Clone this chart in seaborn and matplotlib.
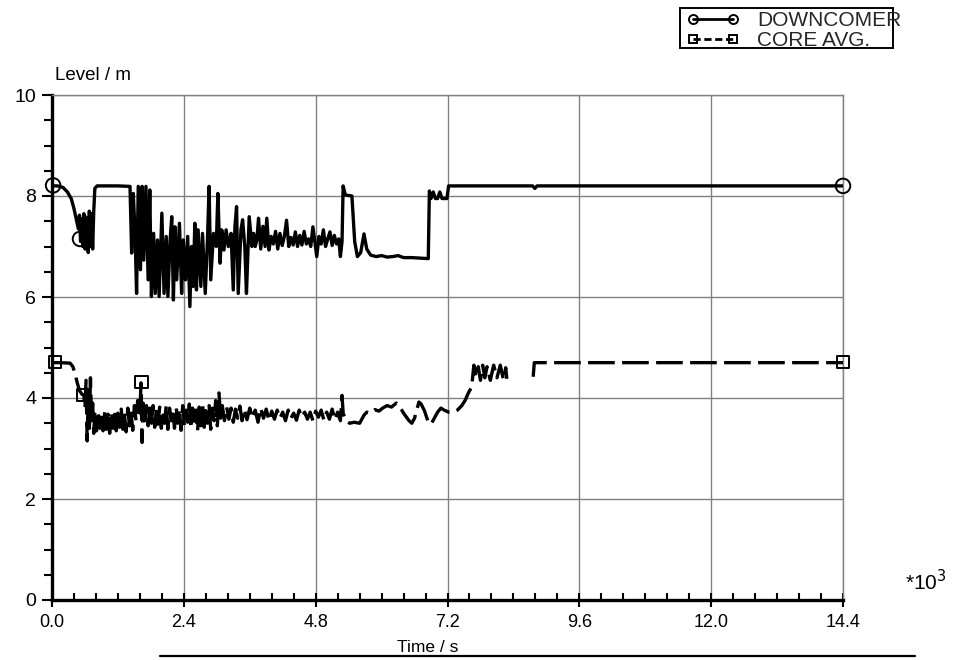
import matplotlib
matplotlib.use("Agg")
import matplotlib.pyplot as plt
from matplotlib.lines import Line2D
from matplotlib.patches import Rectangle
from matplotlib.ticker import MultipleLocator, FixedLocator
import seaborn as sns
import pandas as pd

# ---------------- data (time in 10^3 s, level in m) ----------------
dc_time = [0.00, 0.10, 0.20, 0.28, 0.35, 0.40, 0.45, 0.48, 0.50, 0.52, 0.54, 0.56, 0.58, 0.60,
           0.62, 0.64, 0.66, 0.68, 0.70, 0.72, 0.74, 0.76, 0.78, 0.82, 1.00, 1.20, 1.42,
           1.45, 1.48, 1.51, 1.54, 1.57, 1.61, 1.64, 1.67, 1.71, 1.75, 1.78, 1.81, 1.85, 1.88,
           1.92, 1.95, 2.00, 2.04, 2.08, 2.11, 2.15, 2.18, 2.21, 2.24, 2.27, 2.32, 2.36, 2.39,
           2.43, 2.47, 2.51, 2.54, 2.57, 2.60, 2.63, 2.66, 2.71, 2.74, 2.79, 2.83, 2.86, 2.89,
           2.94, 2.99, 3.02, 3.06, 3.09, 3.13, 3.17, 3.21, 3.26, 3.30, 3.33, 3.36, 3.39, 3.44,
           3.47, 3.51, 3.54, 3.59, 3.64, 3.67, 3.70, 3.73,
           3.76, 3.80, 3.84, 3.88, 3.91, 3.95, 3.99, 4.03, 4.07, 4.11, 4.15, 4.19, 4.23, 4.27,
           4.31, 4.35, 4.39, 4.43, 4.47, 4.51, 4.55, 4.59, 4.63, 4.67, 4.71, 4.75, 4.79, 4.82,
           4.86, 4.90, 4.94, 4.98, 5.02, 5.06, 5.10, 5.14, 5.18, 5.22, 5.25, 5.28,
           5.30, 5.34, 5.46, 5.51, 5.56, 5.62, 5.68, 5.73, 5.80, 5.90, 6.00, 6.10, 6.20, 6.30,
           6.40, 6.55, 6.70, 6.85, 6.87, 6.90, 6.94, 6.98, 7.02, 7.06, 7.10, 7.19, 7.22,
           8.75, 8.79, 8.83, 14.40]
dc_level = [8.20, 8.20, 8.17, 8.08, 7.95, 7.75, 7.50, 7.35, 7.62, 7.10, 7.55, 7.00, 7.65, 6.95,
            7.58, 7.15, 6.88, 7.70, 7.00, 7.65, 6.95, 7.70, 8.15, 8.20, 8.20, 8.20, 8.19,
            6.87, 8.05, 7.33, 6.07, 8.19, 6.54, 8.19, 6.73, 8.19, 6.34, 8.12, 6.01, 7.26, 6.07,
            7.13, 6.01, 7.66, 6.07, 7.20, 6.01, 7.13, 7.59, 5.94, 7.39, 6.34, 7.46, 6.07, 7.13,
            6.34, 7.20, 5.81, 7.00, 6.21, 7.46, 6.14, 7.33, 6.21, 7.26, 6.07, 7.13, 8.19, 6.34,
            7.26, 7.00, 8.05, 6.67, 7.33, 6.93, 7.33, 7.00, 7.26, 6.14, 7.39, 7.79, 6.07, 7.33,
            7.53, 7.00, 6.07, 7.59, 7.00, 7.26, 7.00, 7.13,
            7.56, 6.95, 7.40, 7.00, 7.56, 6.93, 7.20, 7.05, 7.30, 6.95, 7.26, 7.02, 7.20, 7.52,
            7.00, 7.18, 7.03, 7.29, 7.00, 7.22, 7.03, 7.30, 7.05, 7.15, 7.00, 7.39, 7.05, 6.80,
            7.20, 7.05, 7.33, 7.00, 7.15, 7.29, 7.02, 7.22, 7.05, 7.15, 6.80, 7.10,
            8.20, 8.02, 8.00, 7.10, 6.80, 6.88, 7.25, 6.95, 6.83, 6.80, 6.82, 6.79, 6.80, 6.82,
            6.78, 6.78, 6.77, 6.76, 8.10, 7.95, 8.08, 7.95, 7.95, 8.08, 7.95, 7.95, 8.20,
            8.20, 8.15, 8.20, 8.20]

core_time = [0.00, 0.15, 0.33, 0.38, 0.42, 0.46, 0.50, 0.54, 0.58, 0.60, 0.62, 0.64, 0.66, 0.68,
             0.70, 0.72, 0.74, 0.76, 0.78, 0.81, 0.84, 0.87, 0.90, 0.93, 0.96, 0.99, 1.02, 1.05,
             1.08, 1.11, 1.14, 1.17, 1.20, 1.23, 1.26, 1.29, 1.32, 1.35, 1.38, 1.41, 1.44, 1.47,
             1.50, 1.53, 1.56, 1.60, 1.62, 1.64, 1.66, 1.69, 1.72, 1.75, 1.78, 1.81, 1.84, 1.87,
             1.90, 1.93, 1.96, 1.99, 2.02, 2.05, 2.08, 2.11, 2.14, 2.17, 2.20, 2.23, 2.26, 2.29,
             2.32, 2.35, 2.38, 2.41, 2.44, 2.47, 2.50, 2.53, 2.56, 2.59, 2.62, 2.65, 2.68, 2.71,
             2.74, 2.77, 2.80, 2.83, 2.86, 2.89, 2.92, 2.95, 2.98, 3.01, 3.04, 3.07, 3.10, 3.14,
             3.18, 3.22, 3.26, 3.30, 3.34, 3.38, 3.42, 3.46, 3.50, 3.55, 3.60, 3.65, 3.70, 3.75,
             3.80, 3.85, 3.90, 3.95, 4.00, 4.05, 4.10, 4.15, 4.20, 4.25, 4.30, 4.35, 4.40, 4.45,
             4.50, 4.55, 4.60, 4.65, 4.70, 4.75, 4.80, 4.85, 4.90, 4.95, 5.00, 5.05, 5.10, 5.15,
             5.20, 5.25, 5.28, 5.30, 5.35, 5.42, 5.50, 5.60, 5.68, 5.73, 5.80, 5.88, 5.95, 6.02,
             6.10, 6.18, 6.27, 6.32, 6.40, 6.50, 6.55, 6.60, 6.68, 6.72, 6.78, 6.85, 6.90, 6.96,
             7.02, 7.08, 7.14, 7.22, 7.30, 7.38, 7.46, 7.52, 7.58, 7.64, 7.68, 7.72, 7.76, 7.80,
             7.84, 7.88, 7.92, 7.98, 8.04, 8.10, 8.16, 8.22, 8.26, 8.28,
             8.76, 8.78, 14.40]
core_level = [4.70, 4.70, 4.69, 4.62, 4.48, 4.30, 4.15, 4.08, 4.05, 3.80, 4.35, 3.15, 4.10, 3.40,
              4.40, 3.55, 3.90, 3.30, 3.75, 3.35, 3.70, 3.40, 3.65, 3.35, 3.72, 3.38, 3.68, 3.30,
              3.72, 3.40, 3.75, 3.35, 3.70, 3.42, 3.78, 3.38, 3.66, 3.33, 3.80, 3.45, 3.70, 3.36,
              3.85, 3.55, 3.95, 3.70, 4.30, 3.12, 3.90, 3.55, 3.85, 3.45, 3.80, 3.50, 3.85, 3.42,
              3.78, 3.48, 3.82, 3.40, 3.75, 3.50, 3.86, 3.38, 3.80, 3.55, 3.74, 3.40, 3.82, 3.50,
              3.78, 3.36, 3.85, 3.45, 3.76, 3.52, 3.88, 3.40, 3.80, 3.48, 3.76, 3.35, 3.82, 3.45,
              3.90, 3.42, 3.75, 3.50, 3.85, 3.38, 3.80, 3.55, 3.95, 3.45, 4.10, 3.60, 3.85, 3.55,
              3.82, 3.58, 3.80, 3.52, 3.78, 3.60, 3.84, 3.55, 3.78, 3.57, 3.80, 3.60, 3.76, 3.52,
              3.80, 3.60, 3.78, 3.55, 3.74, 3.58, 3.76, 3.60, 3.72, 3.55, 3.76, 3.60, 3.70, 3.56,
              3.76, 3.62, 3.72, 3.58, 3.72, 3.55, 3.74, 3.62, 3.76, 3.56, 3.72, 3.58, 3.78, 3.57,
              3.72, 3.55, 4.05, 3.70, 3.55, 3.50, 3.52, 3.50, 3.66, 3.72, 3.70, 3.77, 3.74, 3.80,
              3.85, 3.82, 3.90, 3.85, 3.70, 3.55, 3.50, 3.60, 3.92, 3.88, 3.75, 3.52, 3.48, 3.60,
              3.72, 3.80, 3.76, 3.72, 3.72, 3.76, 3.85, 3.95, 4.10, 4.22, 4.65, 4.40, 4.62, 4.35,
              4.65, 4.40, 4.62, 4.35, 4.65, 4.40, 4.65, 4.35, 4.60, 4.38,
              4.42, 4.70, 4.70]
# the last three core points form a separate (disconnected) piece
core_segment = [0] * (len(core_time) - 3) + [1] * 3

dc_marker_time = [0.02, 0.51, 14.40]
dc_marker_level = [8.21, 7.15, 8.20]
core_marker_time = [0.05, 0.56, 1.63, 14.40]
core_marker_level = [4.71, 4.06, 4.32, 4.71]

series_labels = ["DOWNCOMER", "CORE AVG."]
x_ticks = [0.0, 2.4, 4.8, 7.2, 9.6, 12.0, 14.4]
x_tick_labels = ["0.0", "2.4", "4.8", "7.2", "9.6", "12.0", "14.4"]
y_ticks = [0, 2, 4, 6, 8, 10]

# ---------------- style ----------------
sns.set_theme(style="ticks")
plt.rcParams["font.family"] = ["Liberation Sans", "DejaVu Sans"]

W, H = 968, 660
fig = plt.figure(figsize=(W / 100, H / 100), dpi=100)
ax = fig.add_axes([52 / W, 60 / H, 791 / W, 505 / H])

dc_df = pd.DataFrame({"t": dc_time, "v": dc_level})
core_df = pd.DataFrame({"t": core_time, "v": core_level, "seg": core_segment})

LW = 2.4
dash = (0, (8.0, 2.2))
sns.lineplot(data=dc_df, x="t", y="v", ax=ax, color="black", lw=LW, sort=False,
             estimator=None, legend=False, zorder=3)
sns.lineplot(data=core_df, x="t", y="v", units="seg", ax=ax, color="black", lw=LW,
             sort=False, estimator=None, legend=False, zorder=3, linestyle=dash)

sns.scatterplot(x=dc_marker_time, y=dc_marker_level, ax=ax, marker="o", s=110,
                facecolor="none", edgecolor="black", linewidth=1.4, zorder=4, clip_on=False)
sns.scatterplot(x=core_marker_time, y=core_marker_level, ax=ax, marker="s", s=80,
                facecolor="none", edgecolor="black", linewidth=1.4, zorder=4, clip_on=False)

ax.set_xlim(0, 14.4)
ax.set_ylim(0, 10)
ax.set_xlabel("")
ax.set_ylabel("")
ax.xaxis.set_major_locator(FixedLocator(x_ticks))
ax.set_xticklabels(x_tick_labels)
ax.xaxis.set_minor_locator(MultipleLocator(0.4))
ax.yaxis.set_major_locator(FixedLocator(y_ticks))
ax.yaxis.set_minor_locator(MultipleLocator(0.5))

ax.grid(True, which="major", color="#808080", lw=1.0)
ax.set_axisbelow(True)
for side in ["top", "right"]:
    ax.spines[side].set_visible(True)
    ax.spines[side].set_color("#808080")
    ax.spines[side].set_linewidth(1.0)
for side in ["left", "bottom"]:
    ax.spines[side].set_color("black")
    ax.spines[side].set_linewidth(2.4)

ax.tick_params(axis="y", which="major", direction="out", length=7.5, width=1.5,
               color="black", labelsize=14, pad=4)
ax.tick_params(axis="y", which="minor", direction="out", length=6, width=1.5, color="black")
ax.tick_params(axis="x", which="major", direction="inout", length=10, width=1.5,
               color="black", labelsize=13, pad=5)
ax.tick_params(axis="x", which="minor", direction="in", length=5, width=1.5, color="black")
for lab in ax.get_xticklabels() + ax.get_yticklabels():
    lab.set_color("black")

# ---------------- texts ----------------
fig.text(55 / W, 1 - 75 / H, "Level / m", fontsize=13.5, va="center", ha="left", color="black")
fig.text(428 / W, 1 - 647 / H, "Time / s", fontsize=12.5, va="center", ha="center", color="black")
fig.add_artist(Line2D([160 / W, 915 / W], [1 - 656 / H, 1 - 656 / H], color="black", lw=1.6))
fig.text(905 / W, 1 - 582 / H, r"*10$^{3}$", fontsize=15, va="center", ha="left", color="black")

# ---------------- legend ----------------
handles = [
    Line2D([], [], color="black", lw=2.0, marker="o", ms=6.5, mfc="none", mew=1.4),
    Line2D([], [], color="black", lw=2.0, ls=(0, (2.6, 1.3)), marker="s", ms=5.5, mfc="none", mew=1.4),
]
leg = fig.legend(handles, series_labels, loc="upper left",
                 bbox_to_anchor=(687 / W, 1 - 11.5 / H), frameon=False, numpoints=2,
                 fontsize=15, handlelength=2.5, handletextpad=0.85, labelspacing=0.02,
                 borderpad=0, borderaxespad=0)
fig.add_artist(Rectangle((680 / W, 1 - 48 / H), 213 / W, 40 / H, transform=fig.transFigure,
                         fill=False, edgecolor="black", lw=1.4))

fig.savefig("out.png", dpi=100)
